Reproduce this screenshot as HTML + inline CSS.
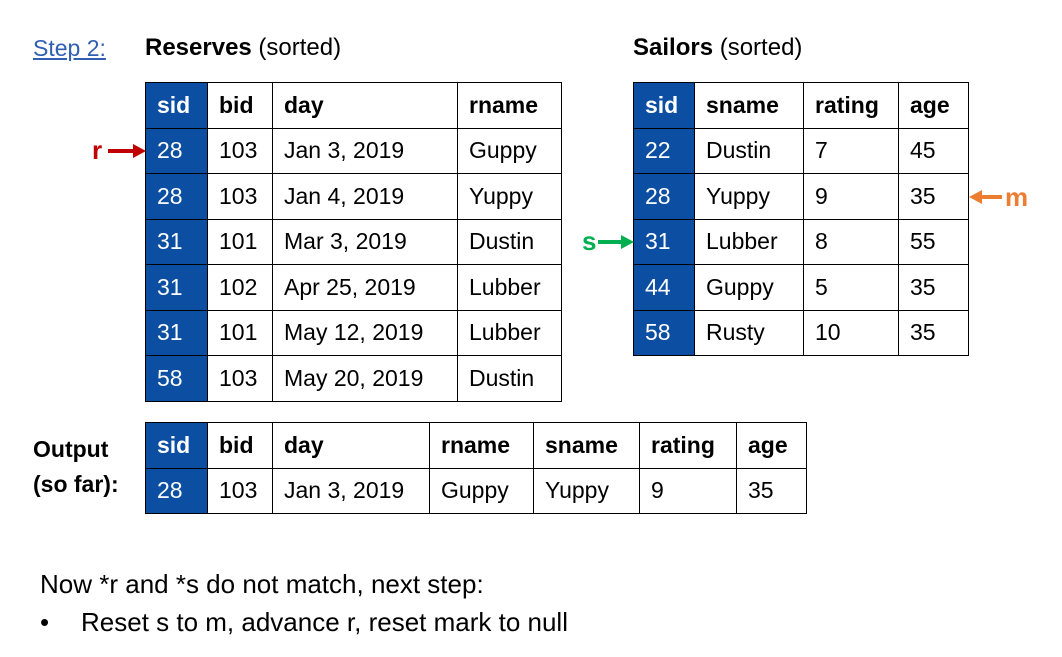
<!DOCTYPE html>
<html><head><meta charset="utf-8"><style>
body{margin:0;width:1062px;height:657px;background:#fff;font-family:"Liberation Sans","Carlito","DejaVu Sans",sans-serif;position:relative;overflow:hidden;color:#000}
.t{position:absolute;border-collapse:collapse;table-layout:fixed;font-size:23px}
.t td{border:1.5px solid #000;padding:0 0 0 11px;height:44.5px;white-space:nowrap;overflow:hidden}
.t tr.h td{font-weight:bold}
.t td.s{background:#0B4EA2;color:#fff;border-color:#000}
.lbl{position:absolute;font-size:23px;white-space:nowrap}
</style></head><body>
<div class="lbl" style="left:33px;top:35px;color:#2F5FB3;text-decoration:underline">Step 2:</div>
<div class="lbl" style="left:145px;top:34px;font-size:24px"><b>Reserves</b> (sorted)</div>
<div class="lbl" style="left:633px;top:34px;font-size:24px"><b>Sailors</b> (sorted)</div>

<table class="t" style="left:145px;top:82px;width:416px">
<colgroup><col style="width:62px"><col style="width:65px"><col style="width:185px"><col style="width:104px"></colgroup>
<tr class="h"><td class="s">sid</td><td>bid</td><td>day</td><td>rname</td></tr>
<tr><td class="s">28</td><td>103</td><td>Jan 3, 2019</td><td>Guppy</td></tr>
<tr><td class="s">28</td><td>103</td><td>Jan 4, 2019</td><td>Yuppy</td></tr>
<tr><td class="s">31</td><td>101</td><td>Mar 3, 2019</td><td>Dustin</td></tr>
<tr><td class="s">31</td><td>102</td><td>Apr 25, 2019</td><td>Lubber</td></tr>
<tr><td class="s">31</td><td>101</td><td>May 12, 2019</td><td>Lubber</td></tr>
<tr><td class="s">58</td><td>103</td><td>May 20, 2019</td><td>Dustin</td></tr>
</table>

<table class="t" style="left:633px;top:82px;width:335px">
<colgroup><col style="width:61px"><col style="width:109px"><col style="width:95px"><col style="width:70px"></colgroup>
<tr class="h"><td class="s">sid</td><td>sname</td><td>rating</td><td>age</td></tr>
<tr><td class="s">22</td><td>Dustin</td><td>7</td><td>45</td></tr>
<tr><td class="s">28</td><td>Yuppy</td><td>9</td><td>35</td></tr>
<tr><td class="s">31</td><td>Lubber</td><td>8</td><td>55</td></tr>
<tr><td class="s">44</td><td>Guppy</td><td>5</td><td>35</td></tr>
<tr><td class="s">58</td><td>Rusty</td><td>10</td><td>35</td></tr>
</table>

<div class="lbl" style="left:33px;top:432px;font-weight:bold;line-height:35px">Output<br>(so far):</div>
<table class="t" style="left:145px;top:422px;width:661px">
<colgroup><col style="width:62px"><col style="width:65px"><col style="width:157px"><col style="width:104px"><col style="width:106px"><col style="width:97px"><col style="width:70px"></colgroup>
<tr class="h"><td class="s">sid</td><td>bid</td><td>day</td><td>rname</td><td>sname</td><td>rating</td><td>age</td></tr>
<tr><td class="s">28</td><td>103</td><td>Jan 3, 2019</td><td>Guppy</td><td>Yuppy</td><td>9</td><td>35</td></tr>
</table>

<svg style="position:absolute;left:0;top:0" width="1062" height="657">
<g><text x="92" y="159" font-size="26" font-weight="bold" fill="#C00000" font-family="Liberation Sans, sans-serif">r</text>
<line x1="108" y1="151" x2="135" y2="151" stroke="#C00000" stroke-width="4"/><polygon points="133,144 146,151 133,158" fill="#C00000"/></g>
<g><text x="582" y="250" font-size="26" font-weight="bold" fill="#00B050" font-family="Liberation Sans, sans-serif">s</text>
<line x1="598" y1="242" x2="623" y2="242" stroke="#00B050" stroke-width="4"/><polygon points="621,235 634,242 621,249" fill="#00B050"/></g>
<g><polygon points="982,190 969,197 982,204" fill="#ED7D31"/>
<line x1="980" y1="197" x2="1002" y2="197" stroke="#ED7D31" stroke-width="4"/><text x="1005" y="206" font-size="26" font-weight="bold" fill="#ED7D31" font-family="Liberation Sans, sans-serif">m</text></g>
</svg>

<div class="lbl" style="left:40px;top:569px;font-size:26px">Now *r and *s do not match, next step:</div>
<div class="lbl" style="left:40px;top:607px;font-size:26px">•<span style="position:absolute;left:41px">Reset s to m, advance r, reset mark to null</span></div>
</body></html>
